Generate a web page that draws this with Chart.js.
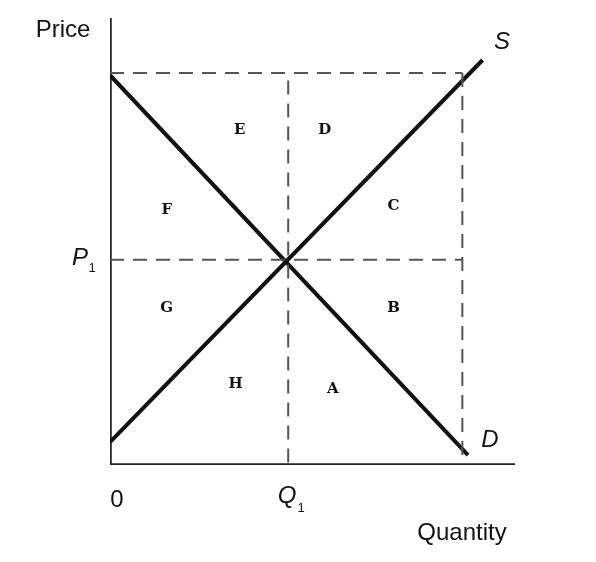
<!DOCTYPE html><html><head><script src="https://cdn.jsdelivr.net/npm/chart.js@4"></script>
<style>html,body{margin:0;background:#fff}#w{width:596px;height:562px}</style></head><body><div id="w"><canvas id="c"></canvas></div>
<script>
const Q1=44, P1=45.9, Qmax=87, Pmax=87.7;
const demandX=[0,88.4], demandY=[87.2,2.2];
const supplyX=[0,92], supplyY=[5.1,90.6];
const regionLabels=['E','D','F','C','G','B','H','A'];
const regionX=[32,53,14,70,14,70,31,55];
const regionY=[75,75,57,58,35,35,18,17];
const pts=(xs,ys)=>xs.map((x,i)=>({x,y:ys[i]}));
const dash={borderColor:'#555',borderWidth:2,borderDash:[14,9],pointRadius:0,fill:false};
const solid={borderColor:'#111',borderWidth:4,pointRadius:0,fill:false};
const textPlugin={id:'t',afterDatasetsDraw(ch){
 const c=ch.ctx,x=ch.scales.x,y=ch.scales.y;
 c.save();c.fillStyle='#111';c.textAlign='center';c.textBaseline='middle';
 c.font='bold 15px "DejaVu Serif", serif';
 regionLabels.forEach((l,i)=>c.fillText(l,x.getPixelForValue(regionX[i]),y.getPixelForValue(regionY[i])));
 c.font='24px "Liberation Sans", Arial';
 c.fillText('Price',63,30);c.fillText('0',117,500);c.fillText('Quantity',462,533);
 c.font='italic 24px "Liberation Sans", Arial';
 c.fillText('P',80,258);c.fillText('Q',287,496);
 c.font='13px "Liberation Sans", Arial';c.fillText('1',92,268);c.fillText('1',301,508);
 c.font='italic 24px "Liberation Sans", Arial';c.fillText('S',502,42);c.fillText('D',490,440);
 c.restore();}};
new Chart(document.getElementById('c'),{type:'scatter',plugins:[textPlugin],
data:{datasets:[
 {...dash,data:pts([0,Qmax],[Pmax,Pmax]),showLine:true},
 {...dash,data:pts([0,Qmax],[P1,P1]),showLine:true},
 {...dash,data:pts([Qmax,Qmax],[Pmax,1]),showLine:true},
 {...dash,data:pts([Q1,Q1],[86,0]),showLine:true},
 {...solid,data:pts(demandX,demandY),showLine:true},
 {...solid,data:pts(supplyX,supplyY),showLine:true},
 {borderColor:'#222',borderWidth:3.5,pointRadius:0,showLine:true,data:pts([0,0,100],[100,0,0])}
]},
options:{responsive:true,maintainAspectRatio:false,animation:false,
 layout:{padding:{left:110,top:18,right:81,bottom:97}},
 plugins:{legend:{display:false},tooltip:{enabled:false}},
 scales:{x:{type:'linear',min:0,max:100,display:false},y:{min:0,max:100,display:false}}}});
</script></body></html>
